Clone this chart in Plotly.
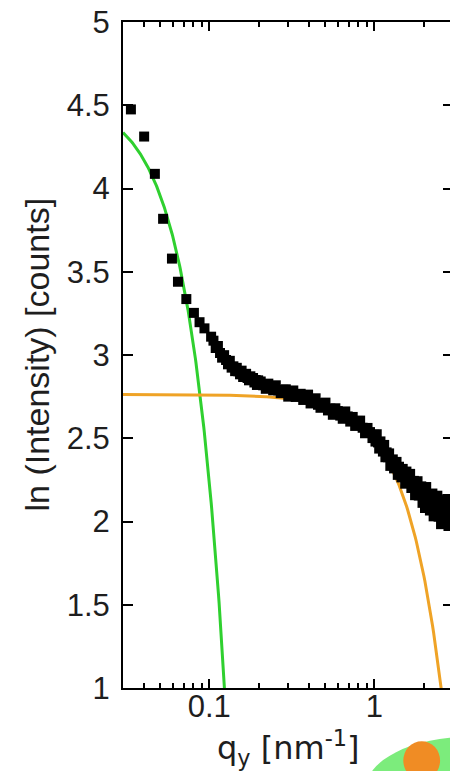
import numpy as np
import plotly.graph_objects as go

# Measured scattering profile: ln(intensity) against q_y [nm^-1]
q_low = [0.0335, 0.0403, 0.0468, 0.0525, 0.0594, 0.0646, 0.0726, 0.0807,
         0.0873, 0.0935, 0.1026]
ln_low = [4.475, 4.312, 4.088, 3.818, 3.579, 3.440, 3.336, 3.253,
          3.197, 3.160, 3.110]

q_mid = [0.1060, 0.1094, 0.1128, 0.1162, 0.1196, 0.1230, 0.1264, 0.1298,
         0.1332, 0.1366, 0.1400, 0.1434, 0.1468, 0.1502, 0.1536, 0.1570,
         0.1604, 0.1638, 0.1672, 0.1706, 0.1740, 0.1774, 0.1808, 0.1842,
         0.1876, 0.1910, 0.1944, 0.1978]
ln_mid = [3.086, 3.042, 3.054, 3.012, 2.984, 2.999, 2.970, 2.944,
          2.965, 2.924, 2.932, 2.903, 2.923, 2.902, 2.884, 2.906,
          2.868, 2.885, 2.887, 2.862, 2.848, 2.872, 2.851, 2.862,
          2.835, 2.850, 2.820, 2.848]

q_plateau = [0.205, 0.212, 0.220, 0.228, 0.236, 0.244, 0.253, 0.262, 0.271, 0.281,
             0.291, 0.301, 0.312, 0.323, 0.334, 0.346, 0.358, 0.371, 0.384, 0.397,
             0.411, 0.426, 0.441, 0.456, 0.472, 0.489, 0.506, 0.524, 0.542, 0.561,
             0.581, 0.601, 0.622, 0.644, 0.667, 0.690, 0.715, 0.740, 0.766, 0.793,
             0.821, 0.850, 0.879, 0.910, 0.942, 0.975]
ln_plateau = [2.841, 2.818, 2.797, 2.828, 2.807, 2.788, 2.818, 2.787, 2.771, 2.791,
              2.794, 2.750, 2.774, 2.787, 2.748, 2.754, 2.767, 2.730, 2.751, 2.762,
              2.709, 2.726, 2.740, 2.701, 2.683, 2.711, 2.714, 2.667, 2.678, 2.641,
              2.680, 2.663, 2.636, 2.617, 2.661, 2.631, 2.600, 2.628, 2.574, 2.604,
              2.606, 2.563, 2.530, 2.562, 2.537, 2.501]

q_tail = [1.000, 1.017, 1.035, 1.053, 1.071, 1.090, 1.109, 1.128, 1.148, 1.168,
          1.188, 1.209, 1.230, 1.251, 1.273, 1.295, 1.318, 1.341, 1.364, 1.388,
          1.412, 1.436, 1.461, 1.487, 1.513, 1.539, 1.566, 1.593, 1.621, 1.649,
          1.678, 1.707, 1.737, 1.767, 1.798, 1.829, 1.861, 1.893, 1.926, 1.960,
          1.994, 2.029, 2.064, 2.100, 2.137, 2.174, 2.212, 2.250, 2.289, 2.329,
          2.370, 2.411, 2.453, 2.496, 2.539, 2.583, 2.628, 2.674, 2.721, 2.768,
          2.816, 2.865, 2.915, 2.966]
ln_tail = [2.521, 2.480, 2.524, 2.475, 2.438, 2.481, 2.452, 2.420, 2.460, 2.386,
           2.415, 2.386, 2.409, 2.334, 2.368, 2.373, 2.319, 2.322, 2.358, 2.280,
           2.329, 2.301, 2.265, 2.316, 2.293, 2.227, 2.300, 2.237, 2.252, 2.286,
           2.201, 2.211, 2.244, 2.158, 2.220, 2.242, 2.156, 2.171, 2.211, 2.112,
           2.167, 2.081, 2.207, 2.110, 2.161, 2.066, 2.112, 2.168, 2.031, 2.117,
           2.057, 2.155, 2.029, 2.122, 1.984, 2.081, 2.128, 2.013, 2.034, 2.135,
           1.973, 2.075, 1.982, 2.095]

q_data = q_low + q_mid + q_plateau + q_tail
ln_data = ln_low + ln_mid + ln_plateau + ln_tail

# Guinier fits: ln I = ln I0 - (Rg^2 / 3) q^2
ln_i0_large = 4.544
rg_large = 26.3      # nm
ln_i0_small = 2.763
rg_small = 0.905     # nm

q_fit_large = np.geomspace(0.03, 0.13, 200)
ln_fit_large = ln_i0_large - rg_large ** 2 / 3 * q_fit_large ** 2
q_fit_small = np.geomspace(0.03, 2.7, 300)
ln_fit_small = ln_i0_small - rg_small ** 2 / 3 * q_fit_small ** 2

x_range = [0.03, 3]
x_ticks = [0.1, 1]
x_tick_text = ["0.1", "1"]
x_minor = [0.04, 0.05, 0.06, 0.07, 0.08, 0.09,
           0.2, 0.3, 0.4, 0.5, 0.6, 0.7, 0.8, 0.9, 2, 3]
y_ticks = [1, 1.5, 2, 2.5, 3, 3.5, 4, 4.5, 5]
y_tick_text = ["1", "1.5", "2", "2.5", "3", "3.5", "4", "4.5", "5"]

GREEN = "#2fd02f"
ORANGE = "#efa326"
TEXT = "#1e1e1e"
FONT = "Liberation Sans, Arial, sans-serif"
WIDE_FONT = "DejaVu Sans, sans-serif"

W, H = 460, 771
L, R, T, B = 123, 5, 18, 83
PW, PH = W - L - R, H - T - B
LABEL_LIFT = 3  # px the q tick labels sit above the default position


def px_to_paper(px, py):
    return (px - L) / PW, (H - B - py) / PH


fig = go.Figure()
fig.add_trace(go.Scatter(
    x=q_fit_large, y=ln_fit_large, mode="lines",
    line=dict(color=GREEN, width=3), showlegend=False))
fig.add_trace(go.Scatter(
    x=q_fit_small, y=ln_fit_small, mode="lines",
    line=dict(color=ORANGE, width=3), showlegend=False))
fig.add_trace(go.Scatter(
    x=q_data, y=ln_data, mode="markers",
    marker=dict(symbol="square", size=10, color="black", line=dict(width=0)),
    showlegend=False))
# empty trace that binds the label-only q axis to the plot
fig.add_trace(go.Scatter(x=[], y=[], xaxis="x2", yaxis="y",
                         showlegend=False, hoverinfo="skip"))

log_range = [np.log10(x_range[0]), np.log10(x_range[1])]
fig.update_layout(
    xaxis=dict(
        type="log", range=log_range,
        tickmode="array", tickvals=x_ticks, showticklabels=False,
        ticks="inside", ticklen=9, tickwidth=2, tickcolor="black",
        minor=dict(tickmode="array", tickvals=x_minor, ticks="inside",
                   ticklen=5, tickwidth=2, tickcolor="black"),
        showline=True, linecolor="black", linewidth=2, mirror="ticks",
        showgrid=False, zeroline=False,
    ),
    xaxis2=dict(
        type="log", range=log_range, overlaying="x", anchor="free",
        position=LABEL_LIFT / PH, side="bottom",
        tickmode="array", tickvals=x_ticks, ticktext=x_tick_text,
        ticks="", showline=False, showgrid=False, zeroline=False,
        tickfont=dict(family=FONT, size=31, color=TEXT),
    ),
    yaxis=dict(
        range=[1, 5], tickmode="array", tickvals=y_ticks, ticktext=y_tick_text,
        ticks="inside", ticklen=10, tickwidth=2, tickcolor="black",
        showline=True, linecolor="black", linewidth=2, mirror="ticks",
        showgrid=False, zeroline=False,
        tickfont=dict(family=FONT, size=31, color=TEXT),
        ticklabelstandoff=5,
    ),
)

# Axis titles
x0, y0 = px_to_paper(36, 353)
fig.add_annotation(text="ln (Intensity) [counts]", xref="paper", yref="paper",
                   x=x0, y=y0, showarrow=False, textangle=-90,
                   xanchor="center", yanchor="middle",
                   font=dict(family=FONT, size=34, color=TEXT))
x1, y1 = px_to_paper(290, 748)
fig.add_annotation(text="q<sub>y</sub> [nm<sup>-1</sup>]", xref="paper", yref="paper",
                   x=x1, y=y1, showarrow=False, xanchor="center", yanchor="middle",
                   font=dict(family=WIDE_FONT, size=32, color=TEXT))

# Particle sketch below the frame
gx0, gy1 = px_to_paper(367, 737)
gx1, gy0 = px_to_paper(577, 843)
fig.add_shape(type="circle", xref="paper", yref="paper",
              x0=gx0, x1=gx1, y0=gy0, y1=gy1,
              fillcolor="#7cec7c", line=dict(width=0), layer="above")
ox0, oy1 = px_to_paper(405, 741.5)
ox1, oy0 = px_to_paper(442, 780.5)
fig.add_shape(type="circle", xref="paper", yref="paper",
              x0=ox0, x1=ox1, y0=oy0, y1=oy1,
              fillcolor="#f08c24", line=dict(width=0), layer="above")

fig.update_layout(
    width=W, height=H,
    margin=dict(l=L, r=R, t=T, b=B, pad=0),
    paper_bgcolor="white", plot_bgcolor="white",
    showlegend=False,
)

fig.write_html(
    "out.html",
    post_script="document.documentElement.style.overflow='hidden';"
                "document.body.style.overflow='hidden';",
)
